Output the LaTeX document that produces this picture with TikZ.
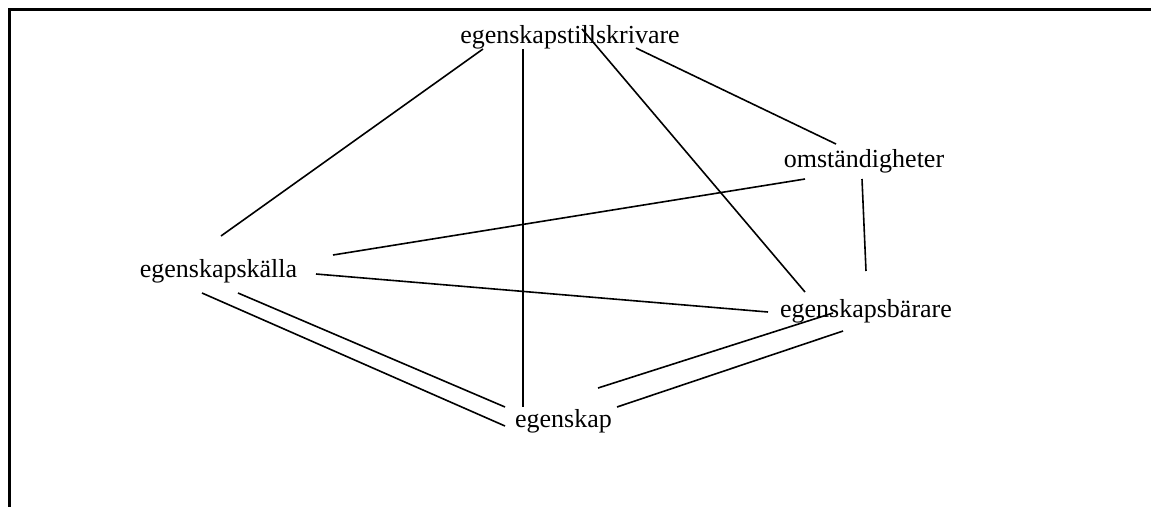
\documentclass[tikz,border=0pt]{standalone}
\usepackage{fontspec}
\setmainfont{Liberation Serif}
\usepackage{tikz}

\tikzset{term/.style={font=\fontsize{26}{30}\selectfont, inner sep=0pt, anchor=base},
         link/.style={line width=1.6pt},
         frame/.style={line width=3pt, line join=miter}}

\begin{document}
\begin{tikzpicture}[x=1pt, y=-1pt]
  \useasboundingbox (0,0) rectangle (1151,507);
  \draw[frame] (1151,9) -- (9,9) -- (9,507);

  % terms
  \node[term] (tillskr) at (570,43)   {egenskapstillskrivare};
  \node[term] (omst)    at (864,167)  {omständigheter};
  \node[term] (kalla)   at (218.5,277) {egenskapskälla};
  \node[term] (barare)  at (866,317)  {egenskapsbärare};
  \node[term] (egensk)  at (563.5,427) {egenskap};

  % relations
  \draw[link] ([shift={(-87,6)}]tillskr.base)  -- ([shift={(2.5,-41)}]kalla.base);
  \draw[link] ([shift={(-47,6)}]tillskr.base)  -- ([shift={(-40.5,-20)}]egensk.base);
  \draw[link] ([shift={(12,-14)}]tillskr.base) -- ([shift={(-61,-25)}]barare.base);
  \draw[link] ([shift={(66,5)}]tillskr.base)   -- ([shift={(-28,-23)}]omst.base);
  \draw[link] ([shift={(-59,12)}]omst.base)    -- ([shift={(114.5,-22)}]kalla.base);
  \draw[link] ([shift={(-2,12)}]omst.base)     -- ([shift={(0,-46)}]barare.base);
  \draw[link] ([shift={(97.5,-3)}]kalla.base)  -- ([shift={(-98,-5)}]barare.base);
  \draw[link] ([shift={(-16.5,16)}]kalla.base) -- ([shift={(-58.5,-1)}]egensk.base);
  \draw[link] ([shift={(19.5,16)}]kalla.base)  -- ([shift={(-58.5,-20)}]egensk.base);
  \draw[link] ([shift={(-33,-4)}]barare.base)  -- ([shift={(34.5,-39)}]egensk.base);
  \draw[link] ([shift={(-23,14)}]barare.base)  -- ([shift={(53.5,-20)}]egensk.base);
\end{tikzpicture}
\end{document}
